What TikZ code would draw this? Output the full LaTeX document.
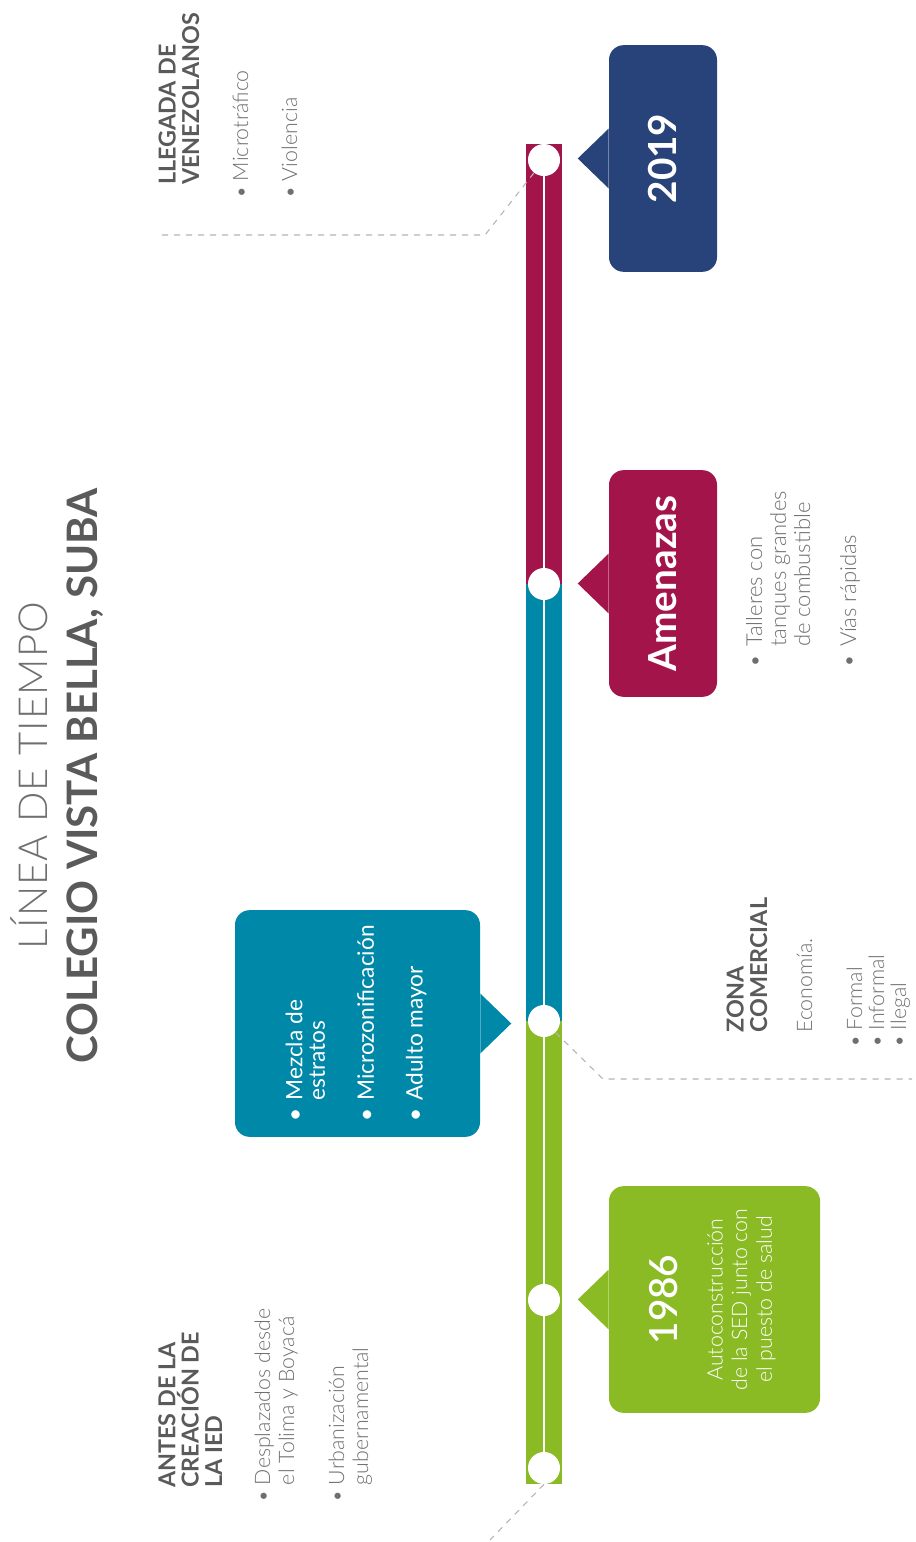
\documentclass[tikz,border=0pt]{standalone}
\usepackage{fontspec}
\setmainfont{Lato}
\newfontfamily\lightfont{Lato Light}
\usetikzlibrary{calc,positioning}

\definecolor{bluebox}{HTML}{27437A}
\definecolor{crimson}{HTML}{A3154A}
\definecolor{tealbar}{HTML}{0088A8}
\definecolor{greenbar}{HTML}{8BBB24}
\definecolor{headgray}{HTML}{5A5A5A}
\definecolor{bodygray}{HTML}{6F6F6F}
\definecolor{dashgray}{HTML}{B4B4B4}

\tikzset{
  tdot/.style={circle, fill=white, inner sep=0pt, minimum size=24pt},
  bubble/.style={rotate=90, rounded corners=11pt, inner sep=0pt,
    minimum width=170pt, minimum height=81pt, text=white},
  yearfont/.style={font=\bfseries\fontsize{29}{34}\selectfont},
  heading/.style={rotate=90, inner sep=0pt, align=left, text=headgray,
    font=\bfseries\fontsize{17.5}{17.5}\selectfont},
  body/.style={rotate=90, inner sep=0pt, text=bodygray,
    font=\lightfont\fontsize{16}{18}\selectfont},
  guide/.style={dashgray, dash pattern=on 4.5pt off 4.5pt, line width=0.8pt},
}

\begin{document}
\begin{tikzpicture}[x=0.75pt, y=-0.75pt]
  \useasboundingbox (0,0) rectangle (915,1542);

  % title
  \node[rotate=90, anchor=base, text=bodygray,
    font=\lightfont\fontsize{30}{32}\selectfont\addfontfeature{LetterSpace=3}] (tlight) at (47,776) {LÍNEA DE TIEMPO};
  \node[rotate=90, anchor=base, text=headgray,
    font=\bfseries\fontsize{31.5}{33}\selectfont] (tbold) at (97,776) {COLEGIO VISTA BELLA, SUBA};

  % the bar
  \fill[crimson] (526,144) rectangle (562,584);
  \fill[tealbar] (526,584) rectangle (562,1021);
  \fill[greenbar] (526,1021) rectangle (562,1484);
  \draw[white, line width=1.2pt] (544,160) -- (544,1468);

  \node[tdot] (d2019) at (544,160) {};
  \node[tdot] (damen) at (544,584) {};
  \node[tdot] (dmid) at (544,1021) {};
  \node[tdot] (d1986) at (544,1300) {};
  \node[tdot] (dstart) at (544,1468) {};

  % guides
  \coordinate (g1) at (485,235);
  \coordinate (g1end) at (158,235);
  \draw[guide] (d2019.232) -- (g1) -- (g1end);
  \coordinate (g2) at (603,1079);
  \coordinate (g2end) at (912,1079);
  \draw[guide] (dmid.-45) -- (g2) -- (g2end);
  \coordinate (g3) at (490,1540);
  \draw[guide] (dstart.south) -- (g3);

  % callouts
  \node[bubble, fill=bluebox, yearfont] (b2019) at (663,158.5) {2019};
  \fill[bluebox] ($(b2019.north)+(0,-30)$) -- ($(b2019.north)+(-31,0)$)
    -- ($(b2019.north)+(0,30)$) -- cycle;

  \node[bubble, fill=crimson, yearfont] (bamen) at (663,583.5) {Amenazas};
  \fill[crimson] ($(bamen.north)+(0,-30)$) -- ($(bamen.north)+(-31,0)$)
    -- ($(bamen.north)+(0,30)$) -- cycle;

  \node[bubble, fill=tealbar, minimum height=183.75pt,
    font=\fontsize{17}{17}\selectfont] (bmid) at (357.5,1023.5)
    {\begin{tabular}{@{}l@{\hspace{6pt}}l@{}}
      \textbullet & Mezcla de\\
                  & estratos\\[19pt]
      \textbullet & Microzonificación\\[19pt]
      \textbullet & Adulto mayor
    \end{tabular}};
  \fill[tealbar] ($(bmid.south)+(0,-30)$) -- ($(bmid.south)+(31,0)$)
    -- ($(bmid.south)+(0,30)$) -- cycle;

  \node[bubble, fill=greenbar, minimum height=158.25pt,
    font=\lightfont\fontsize{16}{18.5}\selectfont] (b1986) at (714.5,1299.5)
    {\begin{tabular}{@{}c@{}}
      {\bfseries\fontsize{29}{34}\selectfont 1986}\\[15pt]
      Autoconstrucción\\
      de la SED junto con\\
      el puesto de salud
    \end{tabular}};
  \fill[greenbar] ($(b1986.north)+(0,-30)$) -- ($(b1986.north)+(-31,0)$)
    -- ($(b1986.north)+(0,30)$) -- cycle;

  % texts beside the bar
  \node[heading, anchor=base west] (hven) at (199,185) {LLEGADA DE\\VENEZOLANOS};
  \node[body, anchor=base west] (lven) at (248,199)
    {\begin{tabular}[t]{@{}l@{\hspace{4pt}}l@{}}
      \textbullet & Microtráfico\\[18.75pt]
      \textbullet & Violencia
    \end{tabular}};

  \node[body, anchor=base west, font=\lightfont\fontsize{16.5}{18}\selectfont] (lamen) at (762,668)
    {\begin{tabular}[t]{@{}l@{\hspace{6pt}}l@{}}
      \textbullet & Talleres con\\
                  & tanques grandes\\
                  & de combustible\\[16.5pt]
      \textbullet & Vías rápidas
    \end{tabular}};

  \node[heading, anchor=base west] (hzona) at (767,1033) {ZONA\\COMERCIAL};
  \node[body, anchor=base west] (econ) at (812,1033) {Economía.};
  \node[body, anchor=base west] (lzona) at (862,1048)
    {\begin{tabular}[t]{@{}l@{\hspace{4pt}}l@{}}
      \textbullet & Formal\\[-1.5pt]
      \textbullet & Informal\\[-1.5pt]
      \textbullet & Ilegal
    \end{tabular}};

  \node[heading, anchor=base west] (hantes) at (222,1488) {ANTES DE LA\\CREACIÓN DE\\LA IED};
  \node[body, anchor=base west] (lantes) at (270,1503)
    {\begin{tabular}[t]{@{}l@{\hspace{4pt}}l@{}}
      \textbullet & Desplazados desde\\
                  & el Tolima y Boyacá\\[19.5pt]
      \textbullet & Urbanización\\
                  & gubernamental
    \end{tabular}};
\end{tikzpicture}
\end{document}
